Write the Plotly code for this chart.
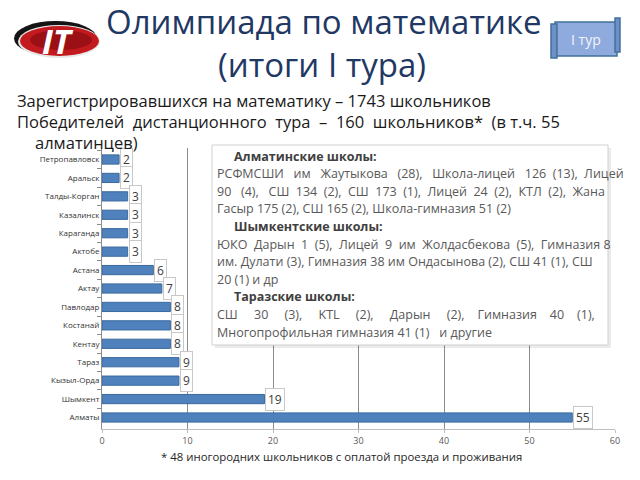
import plotly.graph_objects as go

cities = ["Петропавловск", "Аральск", "Талды-Корган", "Казалинск", "Караганда", "Актобе",
          "Астана", "Актау", "Павлодар", "Костанай", "Кентау", "Тараз", "Кызыл-Орда",
          "Шымкент", "Алматы"]
winners = [2, 2, 3, 3, 3, 3, 6, 7, 8, 8, 8, 9, 9, 19, 55]
x_ticks = [0, 10, 20, 30, 40, 50, 60]

title1 = "Олимпиада по математике"
title2 = "(итоги I тура)"
sub_lines = ["Зарегистрировавшихся на математику – 1743 школьников",
             "Победителей дистанционного тура – 160 школьников* (в т.ч. 55",
             "алматинцев)"]
sub_extra = [0, 6, 0]
footnote = "* 48 иногородних школьников с оплатой проезда и проживания"
box_lines = [
    ("Алматинские школы:", True),
    ("РСФМСШИ им Жаутыкова (28), Школа-лицей 126 (13), Лицей", False),
    ("90 (4), СШ 134 (2), СШ 173 (1), Лицей 24 (2), КТЛ (2), Жана", False),
    ("Гасыр 175 (2), СШ 165 (2), Школа-гимназия 51 (2)", False),
    ("Шымкентские школы:", True),
    ("ЮКО Дарын 1 (5), Лицей 9 им Жолдасбекова (5), Гимназия 8", False),
    ("им. Дулати (3), Гимназия 38 им Ондасынова (2), СШ 41 (1), СШ", False),
    ("20 (1) и др", False),
    ("Таразские школы:", True),
    ("СШ 30 (3), KTL (2), Дарын (2), Гимназия 40 (1),", False),
    ("Многопрофильная гимназия 41 (1)   и другие", False),
]
# extra spaces used to imitate the justified paragraphs
box_extra = [0, 12, 15, 0, 0, 9, 0, 0, 0, 33, 0]


def justify(text, extra):
    words = text.split(" ")
    gaps = len(words) - 1
    if extra <= 0 or gaps <= 0:
        return text
    out = words[0]
    for i, w in enumerate(words[1:]):
        n = 1 + extra // gaps + (1 if i < extra % gaps else 0)
        out += " " * n + w
    return out


W, H = 640, 480
L, R, T, B = 102, 25, 148, 51
PW, PH = W - L - R, H - T - B


def px(x):
    return (x - L) / PW


def py(y):
    return (H - B - y) / PH


FONT = "Open Sans, Noto Sans, DejaVu Sans, sans-serif"

fig = go.Figure()
fig.add_trace(go.Bar(
    x=winners, y=cities, orientation="h",
    marker=dict(color="#4F81BD", line=dict(color="#3A6A9E", width=1)),
    width=0.5, hoverinfo="skip",
))

annotations = []
for c, v in zip(cities, winners):
    annotations.append(dict(x=v, y=c, xref="x", yref="y", text=str(v), showarrow=False,
                            xanchor="left", yanchor="middle", xshift=1, bgcolor="white",
                            bordercolor="#C8C8C8", borderwidth=1, borderpad=2,
                            font=dict(family=FONT, size=12, color="#404040")))

annotations += [
    dict(x=px(324), y=py(22), xref="paper", yref="paper", text=title1, showarrow=False,
         xanchor="center", yanchor="middle",
         font=dict(family=FONT, size=33, color="#1F3864")),
    dict(x=px(322), y=py(64), xref="paper", yref="paper", text=title2, showarrow=False,
         xanchor="center", yanchor="middle",
         font=dict(family=FONT, size=33, color="#1F3864")),
]
for i, (t, xx, ex) in enumerate(zip(sub_lines, [15, 15, 33], sub_extra)):
    annotations.append(dict(x=px(xx), y=py(100 + 21.5 * i), xref="paper", yref="paper",
                            text=justify(t, ex), showarrow=False, xanchor="left", yanchor="middle",
                            font=dict(family=FONT, size=16.5, color="#1a1a1a")))

annotations.append(dict(x=px(341), y=py(456), xref="paper", yref="paper", text=footnote,
                        showarrow=False, xanchor="center", yanchor="middle",
                        font=dict(family=FONT, size=11.4, color="#262626")))

for i, ((t, bold), ex) in enumerate(zip(box_lines, box_extra)):
    txt = justify(t, ex)
    annotations.append(dict(x=px(232 if bold else 215), y=py(156 + 17.6 * i),
                            xref="paper", yref="paper",
                            text=f"<b>{txt}</b>" if bold else txt, showarrow=False,
                            xanchor="left", yanchor="middle",
                            font=dict(family=FONT, size=12.5,
                                      color="#404040" if bold else "#595959")))

# logo text and button text
annotations.append(dict(x=px(58), y=py(41), xref="paper", yref="paper",
                        text="<b><i>IT</i></b>", showarrow=False,
                        xanchor="center", yanchor="middle",
                        font=dict(family=FONT, size=34, color="white")))
annotations.append(dict(x=px(586), y=py(40), xref="paper", yref="paper",
                        text="I тур", showarrow=False,
                        xanchor="center", yanchor="middle",
                        font=dict(family=FONT, size=14, color="#F2F5FB")))

shapes = [
    # text box shadow and box
    dict(type="rect", xref="paper", yref="paper", x0=px(215), x1=px(611), y0=py(148), y1=py(348),
         fillcolor="rgba(0,0,0,0.08)", line=dict(width=0), layer="above"),
    dict(type="rect", xref="paper", yref="paper", x0=px(212), x1=px(608), y0=py(145), y1=py(345),
         fillcolor="white", line=dict(color="#D0D0D0", width=1), layer="above"),
    # logo
    dict(type="circle", xref="paper", yref="paper", x0=px(14), x1=px(97), y0=py(21), y1=py(56),
         fillcolor="#151515", line=dict(width=0)),
    dict(type="circle", xref="paper", yref="paper", x0=px(18), x1=px(100), y0=py(25), y1=py(58),
         fillcolor="#E8E8E8", line=dict(width=0)),
    dict(type="circle", xref="paper", yref="paper", x0=px(20), x1=px(99), y0=py(26), y1=py(56),
         fillcolor="#C21A1F", line=dict(width=0)),
    dict(type="circle", xref="paper", yref="paper", x0=px(30), x1=px(92), y0=py(30), y1=py(50),
         fillcolor="#9A1015", line=dict(width=0)),
    # button
    dict(type="rect", xref="paper", yref="paper", x0=px(555), x1=px(617), y0=py(22), y1=py(56),
         fillcolor="#8FAADC", line=dict(color="#41719C", width=1.5)),
    dict(type="rect", xref="paper", yref="paper", x0=px(551), x1=px(557), y0=py(24), y1=py(58),
         fillcolor="#6F8FC6", line=dict(color="#41719C", width=1.5)),
    dict(type="rect", xref="paper", yref="paper", x0=px(615), x1=px(620), y0=py(18), y1=py(52),
         fillcolor="#6F8FC6", line=dict(color="#41719C", width=1.5)),
]

fig.update_layout(
    width=W, height=H,
    margin=dict(l=L, r=R, t=T, b=B),
    paper_bgcolor="white", plot_bgcolor="white",
    showlegend=False,
    annotations=annotations, shapes=shapes,
    xaxis=dict(range=[0, 60], tickvals=x_ticks, showgrid=True, gridcolor="#8C8C8C",
               gridwidth=1, zeroline=False, showline=True, linecolor="#BFBFBF",
               ticks="outside", ticklen=3, tickcolor="#BFBFBF",
               tickfont=dict(family=FONT, size=9, color="#595959")),
    yaxis=dict(autorange="reversed", showgrid=False, showline=True, linecolor="#8C8C8C",
               ticks="outside", tickson="boundaries", ticklen=4, tickcolor="#8C8C8C",
               tickfont=dict(family=FONT, size=8, color="#333333")),
)

fig.write_html("out.html")
